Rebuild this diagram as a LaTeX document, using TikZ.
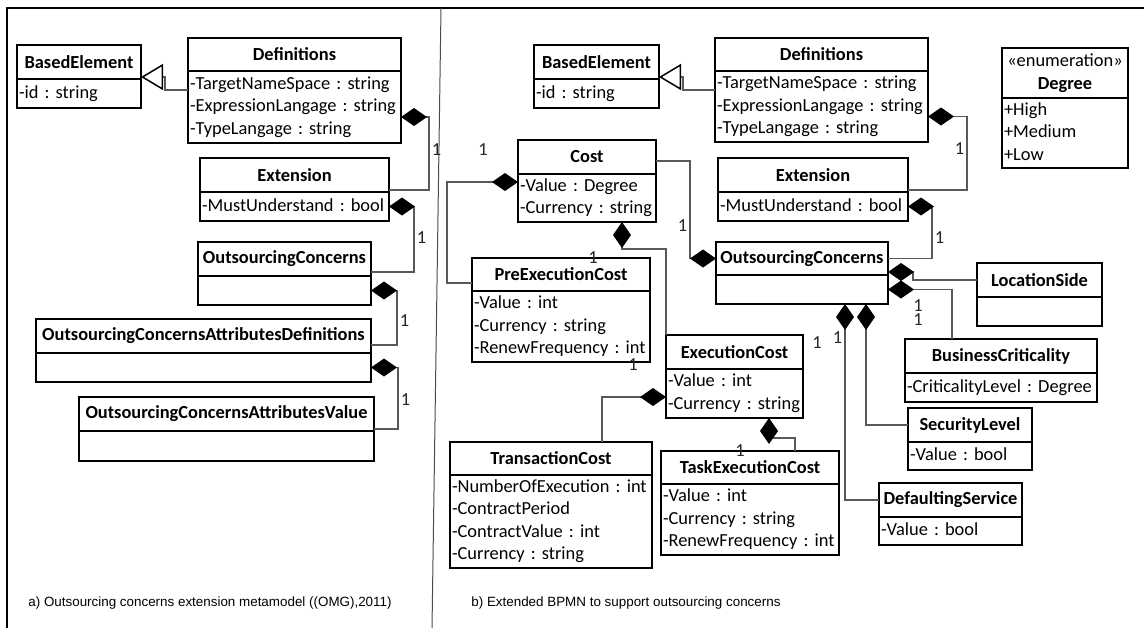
\documentclass[tikz,border=0pt]{standalone}
\usepackage{fontspec}
\setmainfont{Carlito}
\newfontfamily\beschriftfont{Liberation Sans}
\usetikzlibrary{arrows.meta,positioning}
\frenchspacing

\newcommand{\grund}{\fontsize{9.2}{11.25}\selectfont}
\newcommand{\felder}[1]{\begin{tabular}{@{}l@{}}#1\end{tabular}}

% Klasse: Name, x1, y1, x2, y-Trennlinie, y2, Titel, Attribute
\newcommand{\klasse}[8]{%
  \pgfmathsetmacro\kbreite{(#4-#2)/2}%
  \pgfmathsetmacro\ktext{(#4-#2)/2-2}%
  \pgfmathsetmacro\kkopf{(#5-#3)/2}%
  \pgfmathsetmacro\krumpf{(#6-#5)/2}%
  \node[kopf, minimum width=\kbreite pt, minimum height=\kkopf pt] (#1) at (#2,#3) {#7};
  \node[rumpf, minimum width=\kbreite pt, minimum height=\krumpf pt, text width=\ktext pt] (#1-b) at (#1.south) {\felder{#8}};
}

\begin{document}
\begin{tikzpicture}[x=0.5pt,y=-0.5pt,
kopf/.style={
  draw=black,
  line width=1pt,
  anchor=north west,
  align=center,
  inner sep=1pt,
  outer sep=0pt,
  font=\grund\bfseries
},
rumpf/.style={
  draw=black,
  line width=1pt,
  anchor=north,
  align=left,
  inner xsep=1pt,
  inner ysep=0.5pt,
  outer sep=0pt,
  font=\grund
},
komp/.style={
  draw=black!65,
  line width=0.75pt,
  {Diamond[length=13pt,width=9pt,color=black]}-
},
erbt/.style={
  draw=black!65,
  line width=0.75pt,
  -{Triangle[open,length=11pt,width=13pt,color=black,fill=white]}
},
mult/.style={
  font=\grund,
  text=black!85,
  inner sep=0pt
},
unterschrift/.style={
  font=\beschriftfont\fontsize{6.7}{8}\selectfont,
  anchor=west,
  inner sep=0pt
}]
\useasboundingbox (0,0) rectangle (1144,628);

% Rahmen
\draw[line width=1pt] (1144,8) -- (7,8) -- (7,628);
\draw[line width=0.5pt,black!70] (441,8) -- (432,628);

% a) linke Seite
\klasse{lbase}{17}{45}{141}{79}{108}{BasedElement}{-id : string}
\klasse{ldef}{188}{38}{401}{71}{143}{Definitions}{-TargetNameSpace : string\\-ExpressionLangage : string\\-TypeLangage : string}
\klasse{lext}{200}{158}{389}{192}{221}{Extension}{-MustUnderstand : bool}
\klasse{loc}{198}{242}{371}{276}{305}{OutsourcingConcerns}{}
\klasse{locad}{36}{319}{371}{353}{382}{OutsourcingConcernsAttributesDefinitions}{}
\klasse{locav}{79}{397}{374}{431}{461}{OutsourcingConcernsAttributesValue}{}

\draw[erbt] ([yshift=8.5pt]ldef-b.west) -- ++(-23,0) |- ([yshift=1pt]lbase.south east);
\draw[komp] ([yshift=-5pt]ldef-b.east) -- ++(28,0) |- node[mult,pos=0.22,right=1pt]{1} ([yshift=1pt]lext.south east);
\draw[komp] (lext-b.east) -- ++(25,0) |- node[mult,pos=0.24,right=1pt]{1} ([yshift=-6.5pt]loc.east);
\draw[komp] (loc-b.east) -- ++(26,0) |- node[mult,pos=0.28,right=1pt]{1} ([yshift=-4.5pt]locad.east);
\draw[komp] (locad-b.east) -- ++(27,0) |- node[mult,pos=0.26,right=1pt]{1} ([yshift=-7.5pt]locav.east);

\node[unterschrift] (capa) at (28,603) {a) Outsourcing concerns extension metamodel ((OMG),2011)};

% b) rechte Seite
\klasse{rbase}{534}{45}{659}{79}{108}{BasedElement}{-id : string}
\klasse{rdef}{715}{38}{928}{71}{142}{Definitions}{-TargetNameSpace : string\\-ExpressionLangage : string\\-TypeLangage : string}
\klasse{rext}{718}{158}{908}{192}{221}{Extension}{-MustUnderstand : bool}
\klasse{deg}{1002}{48}{1128}{98}{168}{{\mdseries «enumeration»}\\Degree}{+High\\+Medium\\+Low}
\klasse{cost}{518}{140}{656}{174}{222}{Cost}{-Value : Degree\\-Currency : string}
\klasse{pre}{472}{258}{650}{291}{362}{PreExecutionCost}{-Value : int\\-Currency : string\\-RenewFrequency : int}
\klasse{roc}{716}{242}{888}{275}{304}{OutsourcingConcerns}{}
\klasse{lside}{977}{263}{1102}{297}{326}{LocationSide}{}
\klasse{bc}{905}{339}{1097}{373}{402}{BusinessCriticality}{-CriticalityLevel : Degree}
\klasse{sec}{908}{408}{1032}{442}{470}{SecurityLevel}{-Value : bool}
\klasse{dflt}{879}{483}{1022}{517}{545}{DefaultingService}{-Value : bool}
\klasse{exe}{666}{335}{803}{369}{418}{ExecutionCost}{-Value : int\\-Currency : string}
\klasse{trans}{450}{442}{652}{475}{568}{TransactionCost}{-NumberOfExecution : int\\-ContractPeriod\\-ContractValue : int\\-Currency : string}
\klasse{task}{661}{451}{839}{484}{555}{TaskExecutionCost}{-Value : int\\-Currency : string\\-RenewFrequency : int}

\draw[erbt] ([yshift=8.25pt]rdef-b.west) -- ++(-32,0) |- ([yshift=1pt]rbase.south east);
\draw[komp] ([yshift=-5pt]rdef-b.east) -- ++(39,0) |- node[mult,pos=0.22,left=1pt]{1} ([yshift=1pt]rext.south east);
\draw[komp] (rext-b.east) -- ++(24,0) |- node[mult,pos=0.3,right=1pt]{1} (roc.east);
\draw[komp] (roc.west) -- ++(-26,0) |- node[mult,pos=0.17,left=1pt]{1} ([yshift=-2pt]cost.east);
\draw[komp] ([yshift=8pt]cost-b.west) -- ++(-71,0) |- ([yshift=-4.25pt]pre.west);
\draw[komp] ([xshift=17.5pt]cost-b.south) -- ++(0,27) -| (exe.north west);
\draw[komp] ([yshift=-1.75pt]exe-b.west) -| ([xshift=25.5pt]trans.north);
\draw[komp] ([xshift=17.25pt]exe-b.south) -- ++(0,20) -| ([xshift=22.5pt]task.north);
\draw[komp] ([yshift=1.5pt]roc.south east) -- ++(25,0) |- (lside.west);
\draw[komp] (roc-b.east) -| ([xshift=-24.5pt]bc.north);
\draw[komp] ([xshift=21.5pt]roc-b.south) |- node[mult,pos=0.085,left=1pt]{1} (dflt.west);
\draw[komp] ([xshift=32pt]roc-b.south) |- (sec.west);

\node[mult] (m1) at ([xshift=-17.5pt,yshift=-5pt]cost.north west) {1};
\node[mult] (m2) at ([xshift=-28.5pt,yshift=0pt]pre.north east) {1};
\node[mult] (m3) at ([xshift=-8.5pt,yshift=-1.5pt]pre-b.south east) {1};
\node[mult] (m4) at ([xshift=7pt,yshift=-4pt]exe.north east) {1};
\node[mult] (m5) at ([xshift=-5pt,yshift=0pt]task.north) {1};
\node[mult, align=center, font=\fontsize{9.2}{7}\selectfont] (m6) at ([xshift=15pt,yshift=-11.75pt]roc-b.east) {1\\1};

\node[unterschrift] (capb) at (471,603) {b) Extended BPMN to support outsourcing concerns};

\end{tikzpicture}
\end{document}
